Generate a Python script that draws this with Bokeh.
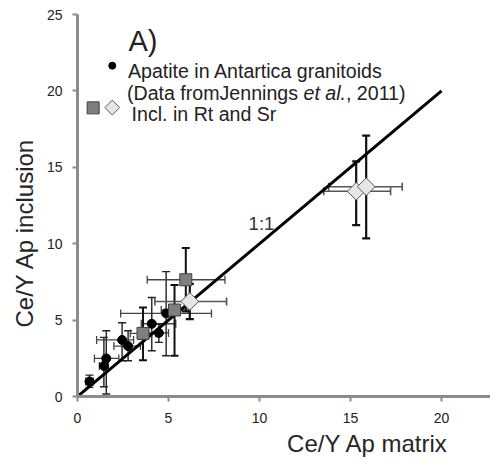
import math
from bokeh.plotting import figure
from bokeh.models import ColumnDataSource, Whisker, TeeHead, Label, Range1d, FixedTicker, Title
from bokeh.embed import file_html
from bokeh.resources import INLINE

# ---------------- data ----------------
# Apatite in Antarctica granitoids (Jennings et al., 2011)
jen_x = [0.66, 1.45, 1.58, 2.45, 2.78, 4.08, 4.47, 4.87]
jen_y = [0.98, 2.00, 2.49, 3.70, 3.30, 4.76, 4.16, 5.44]
jen_y_lo = [0.60, 0.64, 0.16, 2.34, 2.34, 2.99, 3.54, 2.67]
jen_y_hi = [1.40, 3.87, 4.30, 4.83, 4.30, 6.48, 4.74, 8.17]
jen_x_lo = [0.45, 1.20, 0.93, 1.05, 2.00, 3.50, 3.90, 2.37]
jen_x_hi = [0.87, 1.70, 2.27, 3.08, 3.46, 5.40, 5.00, 7.36]

# Inclusions in rutile (grey squares)
sq_x = [3.60, 5.33, 5.95]
sq_y = [4.13, 5.66, 7.64]
sq_y_lo = [2.38, 2.67, 5.56]
sq_y_hi = [5.83, 7.30, 9.72]
sq_x_lo = [2.90, 4.60, 3.83]
sq_x_hi = [4.30, 6.10, 8.10]

# Inclusions in Sr-phase (light diamonds)
dia_x = [6.17, 15.31, 15.86]
dia_y = [6.22, 13.43, 13.73]
dia_y_lo = [5.07, 11.22, 10.35]
dia_y_hi = [7.37, 15.39, 17.07]
dia_x_lo = [4.25, 13.53, 13.80]
dia_x_hi = [8.19, 17.20, 17.84]

# 1:1 reference line
line_x = [0, 20]
line_y = [0, 20]

x_ticks = [0, 5, 10, 15, 20]
y_ticks = [0, 5, 10, 15, 20, 25]

# ---------------- figure ----------------
p = figure(width=490, height=462, output_backend="svg", toolbar_location=None,
           x_range=Range1d(0, 22.69), y_range=Range1d(0, 25),
           min_border_left=77, min_border_right=0, min_border_top=14, min_border_bottom=66)
p.outline_line_color = None
p.xgrid.grid_line_color = None
p.ygrid.grid_line_color = None
p.background_fill_color = "white"
p.border_fill_color = "white"

for ax in (p.xaxis, p.yaxis):
    ax.axis_line_color = "#8c8c8c"
    ax.axis_line_width = 3
    ax.major_tick_line_color = "#8c8c8c"
    ax.major_tick_line_width = 2
    ax.major_tick_out = 5
    ax.major_tick_in = 0
    ax.minor_tick_line_color = None
    ax.major_label_text_font = "Liberation Sans"
    ax.major_label_text_font_size = "14px"
    ax.major_label_text_color = "#222222"
p.xaxis.ticker = FixedTicker(ticks=x_ticks)
p.yaxis.ticker = FixedTicker(ticks=y_ticks)
p.xaxis.major_label_standoff = 11
p.yaxis.major_label_standoff = 10

# axis titles (placed as side titles so they can sit off-centre like the original)
p.add_layout(Title(text="Ce/Y Ap matrix", align="right", offset=42, standoff=5,
                   text_font="Liberation Sans", text_font_size="24px",
                   text_font_style="normal", text_color="#262626"), "below")
p.add_layout(Title(text="Ce/Y Ap inclusion", align="left", offset=69, standoff=12,
                   text_font="Liberation Sans", text_font_size="24px",
                   text_font_style="normal", text_color="#262626"), "left")

def add_bars(xs, ys, xlo, xhi, ylo, yhi, vcolor, vwidth, hcolor, hwidth, cap):
    src = ColumnDataSource(dict(x=xs, y=ys, xlo=xlo, xhi=xhi, ylo=ylo, yhi=yhi))
    p.add_layout(Whisker(source=src, base="y", lower="xlo", upper="xhi", dimension="width",
                         line_color=hcolor, line_width=hwidth,
                         upper_head=TeeHead(size=cap, line_color=hcolor, line_width=hwidth),
                         lower_head=TeeHead(size=cap, line_color=hcolor, line_width=hwidth)))
    p.add_layout(Whisker(source=src, base="x", lower="ylo", upper="yhi", dimension="height",
                         line_color=vcolor, line_width=vwidth,
                         upper_head=TeeHead(size=cap, line_color=vcolor, line_width=vwidth),
                         lower_head=TeeHead(size=cap, line_color=vcolor, line_width=vwidth)))

add_bars(jen_x, jen_y, jen_x_lo, jen_x_hi, jen_y_lo, jen_y_hi, "#222222", 1.4, "#444444", 1.3, 8)
add_bars(sq_x, sq_y, sq_x_lo, sq_x_hi, sq_y_lo, sq_y_hi, "#111111", 2, "#444444", 1.3, 8)
add_bars(dia_x, dia_y, dia_x_lo, dia_x_hi, dia_y_lo, dia_y_hi, "#111111", 2.2, "#555555", 1.6, 8)

p.line(line_x, line_y, line_color="black", line_width=3)

p.scatter(jen_x, jen_y, marker="circle", size=9, fill_color="black", line_color="black")
p.scatter(sq_x, sq_y, marker="square", size=12, fill_color="#7f7f7f", line_color="#404040", line_width=1)
p.scatter(dia_x, dia_y, marker="square", angle=math.pi / 4, size=12.5,
          fill_color="#e6e6e6", line_color="#595959", line_width=1)

# ---------------- texts & legend ----------------
def lab(x, y, t, size, align="left", color="#222222", style="normal", angle=0.0):
    p.add_layout(Label(x=x, y=y, text=t, text_font="Liberation Sans", text_font_size=size,
                       text_align=align, text_baseline="alphabetic", text_color=color,
                       text_font_style=style, angle=angle))

lab(2.80, 23.29, "A)", "29px")
lab(2.77, 21.28, "Apatite in Antartica granitoids", "19.6px")
lab(2.72, 19.84, "(Data fromJennings", "19.6px")
lab(12.42, 19.84, "et al.", "19.6px", style="italic")
lab(14.75, 19.84, ", 2011)", "19.6px")
lab(2.97, 18.49, "Incl. in Rt and Sr", "19.6px")

p.scatter([1.91], [21.65], marker="circle", size=7, fill_color="black", line_color="black")
p.scatter([0.86], [18.89], marker="square", size=12, fill_color="#7f7f7f", line_color="#404040")
p.scatter([1.91], [18.91], marker="square", angle=math.pi / 4, size=10.5,
          fill_color="#e6e6e6", line_color="#595959")

lab(9.40, 11.31, "1:1", "18.5px", color="#333333")

open("out.html", "w").write(file_html(p, INLINE))
